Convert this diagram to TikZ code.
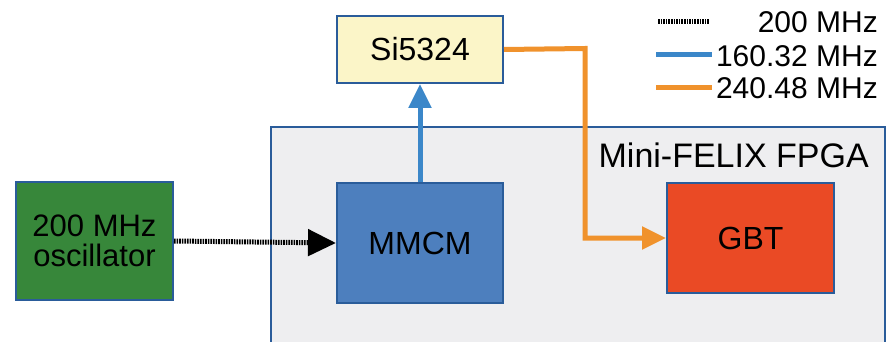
\documentclass[tikz,border=0pt]{standalone}
\usepackage{fontspec}
\setmainfont{Liberation Sans}
\usetikzlibrary{arrows.meta,positioning}

\definecolor{frameblue}{HTML}{2A5C9A}
\definecolor{fpgagray}{HTML}{EEEEF0}
\definecolor{siyellow}{HTML}{FBF5C8}
\definecolor{mmcmblue}{HTML}{4D7FBE}
\definecolor{oscgreen}{HTML}{37873A}
\definecolor{gbtred}{HTML}{EA4A25}
\definecolor{clkblue}{HTML}{3B87C9}
\definecolor{clkorange}{HTML}{F0922C}

\tikzset{
  block/.style={rectangle, draw=frameblue, line width=2pt, anchor=north west, align=center,
    font=\fontsize{32}{30}\selectfont},
  legtext/.style={anchor=east, inner sep=0pt, font=\fontsize{30}{32}\selectfont},
  clk200/.style={line width=5pt, dash pattern=on 1.6pt off 1pt, black},
  clk160/.style={line width=5pt, clkblue},
  clk240/.style={line width=5pt, clkorange},
}

\begin{document}
\begin{tikzpicture}[x=1pt, y=-1pt]
      \useasboundingbox (0,0) rectangle (888,342);
      %\draw[help lines] (0,0) grid (888,342);

      \node [block, fill=fpgagray, minimum width=614pt, minimum height=240pt] (fpga) at (270,126) {};
      \node [anchor=east, inner sep=0pt, font=\fontsize{34}{36}\selectfont] (fpgalabel) at (869,155) {Mini-FELIX FPGA};

      \node [block, fill=siyellow, minimum width=166pt, minimum height=67pt] (si) at (336,15) {Si5324};
      \node [block, fill=mmcmblue, minimum width=166pt, minimum height=120pt] (mmcm) at (336,182) {MMCM};
      \node [block, fill=oscgreen, minimum width=157pt, minimum height=118pt,
             font=\fontsize{31}{30}\selectfont] (osc) at (15,181) {200 MHz\\oscillator};
      \node [block, fill=gbtred, minimum width=167pt, minimum height=110pt] (gbt) at (666,182) {GBT};

      % clock connections
      \draw [clk200, -{Triangle[length=28pt, width=26pt]}] (osc.east) -- (mmcm.west);
      \draw [clk160, -{Triangle[length=24pt, width=22pt]}] (mmcm.north) -- (si.south);
      \draw [clk240, -{Triangle[length=24pt, width=22pt]}] (si.east) -- (585,48.5) |- (gbt.west);

      % legend
      \coordinate (l1a) at (658,22);  \coordinate (l1b) at (710,22);
      \coordinate (l2a) at (656,55);  \coordinate (l2b) at (712,55);
      \coordinate (l3a) at (656,88);  \coordinate (l3b) at (712,88);
      \draw [clk200] (l1a) -- (l1b);
      \draw [clk160] (l2a) -- (l2b);
      \draw [clk240] (l3a) -- (l3b);
      \node [legtext] (leg1) at (878,22) {200 MHz};
      \node [legtext] (leg2) at (878,56) {160.32 MHz};
      \node [legtext] (leg3) at (878,88) {240.48 MHz};

    \end{tikzpicture}
\end{document}
